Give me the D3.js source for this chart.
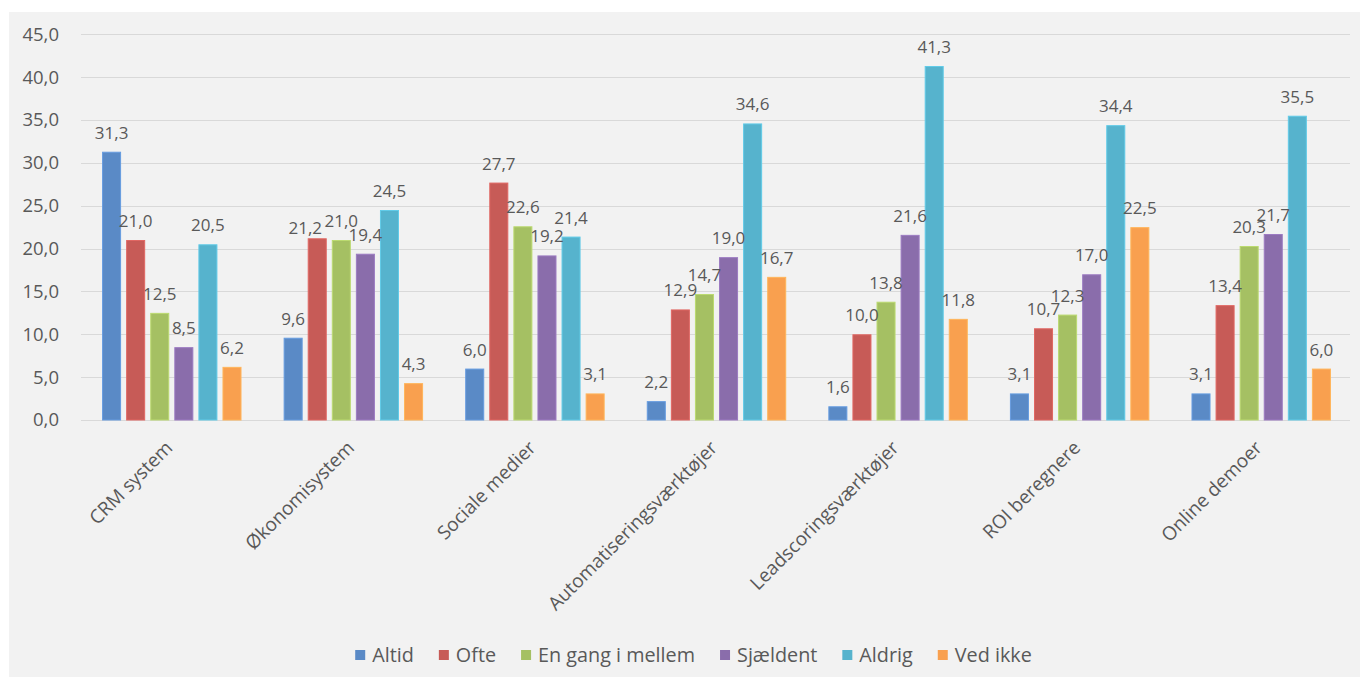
<!DOCTYPE html>
<html>
<head>
<meta charset="utf-8">
<script src="https://cdn.jsdelivr.net/npm/d3@7"></script>
<style>
  html, body { margin: 0; padding: 0; background: #ffffff; }
  svg { display: block; }
  text { font-family: "Open Sans", "Noto Sans", sans-serif; fill: #595959; }
</style>
</head>
<body>
<svg id="chart" width="1360" height="677"></svg>
<script>
// ---- data ----
const categories = ["CRM system", "Økonomisystem", "Sociale medier", "Automatiseringsværktøjer", "Leadscoringsværktøjer", "ROI beregnere", "Online demoer"];
const seriesNames = ["Altid", "Ofte", "En gang i mellem", "Sjældent", "Aldrig", "Ved ikke"];
const altid    = [31.3,  9.6,  6.0,  2.2,  1.6,  3.1,  3.1];
const ofte     = [21.0, 21.2, 27.7, 12.9, 10.0, 10.7, 13.4];
const enGang   = [12.5, 21.0, 22.6, 14.7, 13.8, 12.3, 20.3];
const sjaeldent= [ 8.5, 19.4, 19.2, 19.0, 21.6, 17.0, 21.7];
const aldrig   = [20.5, 24.5, 21.4, 34.6, 41.3, 34.4, 35.5];
const vedIkke  = [ 6.2,  4.3,  3.1, 16.7, 11.8, 22.5,  6.0];
const yTicks   = [0, 5, 10, 15, 20, 25, 30, 35, 40, 45];
const colors   = ["#5a8ac6", "#c75b57", "#a5c063", "#8a6dab", "#56b3cd", "#f9a04f"];

// label placement tweak as in the original (one label moved to avoid overlap)
const labelNudge = { "Økonomisystem|Ofte": [-12, 9] };

const seriesValues = [altid, ofte, enGang, sjaeldent, aldrig, vedIkke];
const fmt = v => d3.format(".1f")(v).replace(".", ",");

const svg = d3.select("#chart");

// panel background
svg.append("rect").attr("x", 9).attr("y", 12).attr("width", 1351).attr("height", 665).attr("fill", "#f2f2f2");

const plotLeft = 81, plotRight = 1352;
const y = d3.scaleLinear().domain([0, 45]).range([420, 34.3]);
const x0 = d3.scaleBand().domain(categories).range([plotLeft, plotRight]).paddingInner(0.232).paddingOuter(0.116);
const x1 = d3.scaleBand().domain(seriesNames).range([0, x0.bandwidth()]).paddingInner(0.21).paddingOuter(0);

// gridlines
svg.append("g").selectAll("line").data(yTicks).join("line")
  .attr("x1", plotLeft).attr("x2", 1350)
  .attr("y1", d => Math.round(y(d)) + 0.5).attr("y2", d => Math.round(y(d)) + 0.5)
  .attr("stroke", "#d9d9d9").attr("stroke-width", 1);

// y axis labels
const yAxis = d3.axisLeft(y).tickValues(yTicks).tickFormat(fmt).tickSize(0).tickPadding(0);
const gy = svg.append("g").attr("transform", "translate(59,0)").call(yAxis);
gy.select(".domain").remove();
gy.selectAll("text").style("font-size", "18.5px").attr("fill", "#595959").attr("font-family", null);

// bars
const groups = svg.append("g").selectAll("g").data(categories).join("g")
  .attr("transform", d => `translate(${x0(d)},0)`);

groups.each(function(cat, ci) {
  const g = d3.select(this);
  const rows = seriesNames.map((s, si) => ({ s, si, v: seriesValues[si][ci], n: labelNudge[cat + "|" + s] || [0, 0] }));
  g.selectAll("rect").data(rows).join("rect")
    .attr("x", d => x1(d.s) + 0.5)
    .attr("y", d => y(d.v) + 0.5)
    .attr("width", x1.bandwidth() - 1)
    .attr("height", d => y(0) - y(d.v) - 0.5)
    .attr("fill", d => colors[d.si])
    .attr("stroke", d => d3.color(colors[d.si]).brighter(0.35))
    .attr("stroke-width", 1);
  g.selectAll("text").data(rows).join("text")
    .attr("x", d => x1(d.s) + x1.bandwidth() / 2 + d.n[0])
    .attr("y", d => y(d.v) - 13 + d.n[1])
    .attr("text-anchor", "middle")
    .style("font-size", "17px")
    .text(d => fmt(d.v));
});

// category labels
svg.append("g").selectAll("text").data(categories).join("text")
  .attr("transform", d => `translate(${x0(d) + x0.bandwidth() / 2 + 2},${449}) rotate(-45)`)
  .attr("text-anchor", "end")
  .style("font-size", "19px")
  .text(d => d);

// legend
const legend = svg.append("g");
const items = legend.selectAll("g").data(seriesNames).join("g");
items.append("rect").attr("width", 10).attr("height", 10).attr("y", -5).attr("fill", (d, i) => colors[i]);
items.append("text").attr("x", 17).attr("dy", "0.35em").style("font-size", "19.8px").text(d => d);
let cx = 0;
items.each(function() {
  const w = this.querySelector("text").getComputedTextLength();
  d3.select(this).attr("transform", `translate(${cx},0)`);
  cx += 17 + w + 25;
});
const total = cx - 25;
legend.attr("transform", `translate(${693.5 - total / 2},655)`);
</script>
</body>
</html>
